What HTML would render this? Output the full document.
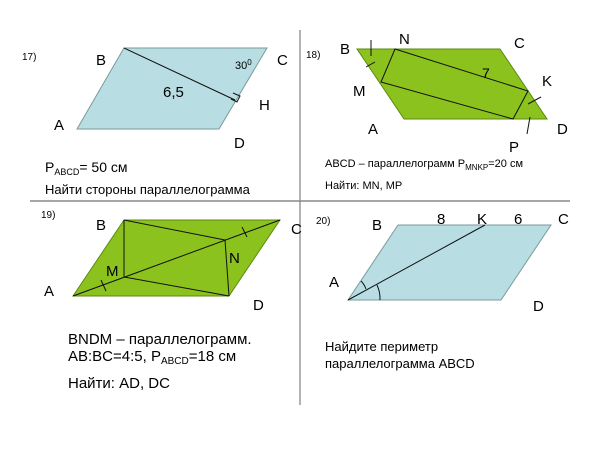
<!DOCTYPE html>
<html><head><meta charset="utf-8"><style>
html,body{margin:0;padding:0;background:#fff;}
svg{display:block;}
text{font-family:"Liberation Sans",sans-serif;fill:#000;}
</style></head><body>
<svg width="600" height="450" viewBox="0 0 600 450" xmlns="http://www.w3.org/2000/svg">
<rect width="600" height="450" fill="#fff"/>
<line x1="300" y1="30" x2="300" y2="405" stroke="#999" stroke-width="1.5"/>
<line x1="30" y1="201" x2="570" y2="201" stroke="#888" stroke-width="1.5"/>

<!-- 17 -->
<polygon points="77,129 124,48 267,48 219,129" fill="#b8dde3" stroke="#7a9a9a" stroke-width="1"/>
<line x1="124" y1="48" x2="235" y2="100" stroke="#111" stroke-width="1"/>
<polyline points="233,93 240,96 237,102 231,99" fill="none" stroke="#111" stroke-width="1"/>
<text x="22" y="60" font-size="10">17)</text>
<text x="96" y="65" font-size="15">B</text>
<text x="277" y="65" font-size="15">C</text>
<text x="235" y="69" font-size="11">30<tspan font-size="8" dy="-4">0</tspan></text>
<text x="163" y="97" font-size="15">6,5</text>
<text x="259" y="110" font-size="15">H</text>
<text x="54" y="130" font-size="15">A</text>
<text x="234" y="148" font-size="15">D</text>
<text x="45" y="172" font-size="14">P<tspan font-size="9" dy="3">ABCD</tspan><tspan dy="-3">= 50 см</tspan></text>
<text x="45" y="194" font-size="13">Найти стороны параллелограмма</text>

<!-- 18 -->
<polygon points="404,119 357,49 500,49 547,119" fill="#8cc21e" stroke="#5a8a10" stroke-width="1"/>
<polygon points="381,82 395,49 528,91 513,119" fill="none" stroke="#111" stroke-width="1"/>
<line x1="371" y1="40" x2="371" y2="56" stroke="#111"/>
<line x1="366" y1="67" x2="375" y2="62" stroke="#111"/>
<line x1="528" y1="104" x2="541" y2="97" stroke="#111"/>
<line x1="530" y1="117" x2="527" y2="134" stroke="#111"/>
<text x="306" y="58" font-size="10">18)</text>
<text x="340" y="54" font-size="15">B</text>
<text x="399" y="44" font-size="15">N</text>
<text x="514" y="48" font-size="15">C</text>
<text x="482" y="78" font-size="14">7</text>
<text x="542" y="86" font-size="15">K</text>
<text x="353" y="96" font-size="15">M</text>
<text x="368" y="134" font-size="15">A</text>
<text x="557" y="134" font-size="15">D</text>
<text x="509" y="152" font-size="15">P</text>
<text x="325" y="167" font-size="11">ABCD – параллелограмм P<tspan font-size="8" dy="3">MNKP</tspan><tspan dy="-3">=20 см</tspan></text>
<text x="325" y="189" font-size="11">Найти: MN, MP</text>

<!-- 19 -->
<polygon points="73,296 124,220 280,220 229,296" fill="#8cc21e" stroke="#5a8a10" stroke-width="1"/>
<line x1="73" y1="296" x2="280" y2="220" stroke="#111"/>
<line x1="124" y1="220" x2="124" y2="277" stroke="#111"/>
<line x1="124" y1="277" x2="229" y2="296" stroke="#111"/>
<line x1="124" y1="220" x2="225" y2="240" stroke="#111"/>
<line x1="225" y1="240" x2="229" y2="296" stroke="#111"/>
<line x1="101" y1="280" x2="106" y2="291" stroke="#111"/>
<line x1="242" y1="227" x2="247" y2="237" stroke="#111"/>
<text x="41" y="218" font-size="10">19)</text>
<text x="96" y="230" font-size="15">B</text>
<text x="291" y="234" font-size="15">C</text>
<text x="229" y="263" font-size="15">N</text>
<text x="106" y="276" font-size="15">M</text>
<text x="44" y="296" font-size="15">A</text>
<text x="253" y="310" font-size="15">D</text>
<text x="68" y="344" font-size="15">BNDM – параллелограмм.</text>
<text x="68" y="361" font-size="15">AB:BC=4:5, P<tspan font-size="10" dy="3">ABCD</tspan><tspan dy="-3">=18 см</tspan></text>
<text x="68" y="388" font-size="15">Найти: AD, DC</text>

<!-- 20 -->
<polygon points="348,300 398,225 551,225 501,300" fill="#b8dde3" stroke="#7a9a9a" stroke-width="1"/>
<line x1="348" y1="300" x2="485" y2="225" stroke="#111"/>
<path d="M361,281 A22,22 0 0 1 366,289" fill="none" stroke="#111"/>
<path d="M377,285 A32,32 0 0 1 380,300" fill="none" stroke="#111"/>
<text x="316" y="224" font-size="10">20)</text>
<text x="372" y="230" font-size="15">B</text>
<text x="437" y="224" font-size="15">8</text>
<text x="477" y="224" font-size="15">K</text>
<text x="514" y="224" font-size="15">6</text>
<text x="558" y="224" font-size="15">C</text>
<text x="329" y="287" font-size="15">A</text>
<text x="533" y="311" font-size="15">D</text>
<text x="325" y="351" font-size="13">Найдите периметр</text>
<text x="325" y="368" font-size="13">параллелограмма ABCD</text>
</svg>
</body></html>
